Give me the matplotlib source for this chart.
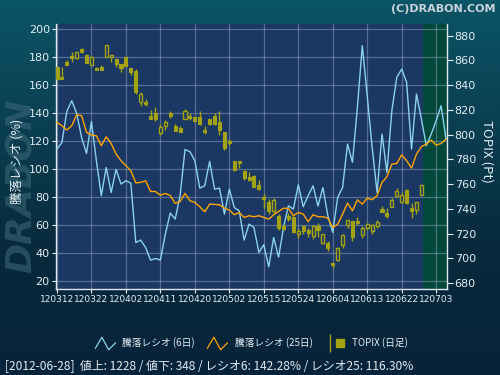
#!/usr/bin/env python3

import numpy as np
import matplotlib
matplotlib.use("Agg")
import matplotlib.pyplot as plt
from matplotlib.lines import Line2D
from matplotlib.path import Path
from matplotlib.legend_handler import HandlerTuple

plt.rcParams["font.family"] = ["DejaVu Sans", "Noto Sans CJK JP"]

JP = ["Noto Sans CJK JP", "DejaVu Sans"]

# x tick labels (every 7 trading days)
date_labels = ["120312", "120322", "120402", "120411", "120420", "120502",
               "120515", "120524", "120604", "120613", "120622", "120703"]

# TOPIX daily candles, 2012-03-12 .. 2012-06-28
topix_open = [854.4, 846.8, 858.7, 863.8, 862.2, 869.2, 864.4, 856.0, 853.6, 855.0,
              862.5, 862.5, 861.4, 857.1, 862.5, 854.1, 851.7, 826.6, 826.4, 815.0,
              817.2, 801.6, 807.2, 817.2, 806.7, 805.3, 812.9, 815.0, 814.0, 814.2,
              803.7, 812.6, 815.0, 810.0, 802.1, 795.1, 778.4, 778.4, 770.8, 765.5,
              766.5, 759.2, 749.8, 745.8, 738.0, 733.9, 725.8, 733.9, 733.1, 720.1,
              726.1, 723.1, 718.0, 725.8, 712.3, 712.3, 696.4, 698.9, 711.0, 727.2,
              729.9, 730.4, 719.0, 724.7, 722.3, 725.8, 739.8, 736.6, 741.7, 750.6,
              745.8, 755.5, 740.4, 739.3, 751.4]
topix_high = [855.0, 855.0, 860.3, 866.8, 866.8, 870.0, 865.2, 863.3, 855.0, 856.3,
              872.5, 864.4, 861.4, 857.1, 863.6, 854.1, 853.0, 834.2, 829.0, 820.0,
              822.0, 808.6, 811.8, 818.8, 809.0, 807.2, 820.7, 817.2, 814.5, 818.8,
              806.7, 812.6, 817.2, 818.8, 802.1, 796.4, 778.9, 778.4, 771.6, 770.0,
              767.5, 763.3, 751.9, 747.7, 748.7, 735.8, 727.7, 737.1, 733.9, 724.5,
              727.2, 724.5, 727.2, 728.5, 719.6, 714.2, 696.4, 709.4, 720.1, 731.0,
              730.4, 733.6, 726.4, 728.5, 727.7, 731.0, 742.5, 741.0, 748.7, 756.8,
              753.9, 756.3, 745.0, 745.2, 759.0]
topix_low = [844.5, 845.0, 856.5, 858.4, 861.4, 866.3, 857.6, 855.5, 852.0, 852.0,
             862.5, 859.0, 855.0, 851.0, 855.5, 848.5, 832.8, 823.4, 823.4, 812.9,
             811.3, 799.7, 803.7, 813.4, 802.9, 802.4, 812.9, 811.8, 810.5, 808.0,
             800.5, 808.0, 808.0, 800.0, 787.5, 791.3, 770.8, 773.0, 763.3, 762.5,
             757.5, 755.5, 741.0, 735.8, 735.8, 722.9, 722.9, 730.4, 720.7, 716.4,
             719.6, 717.5, 715.3, 717.5, 711.5, 706.1, 692.0, 698.0, 708.8, 724.5,
             714.2, 727.2, 716.4, 723.0, 719.6, 724.5, 737.2, 732.3, 741.2, 749.3,
             744.5, 743.9, 733.0, 735.8, 751.4]
topix_close = [845.0, 845.3, 856.5, 862.2, 866.8, 867.1, 858.2, 862.7, 852.0, 852.0,
               872.5, 864.4, 857.4, 854.1, 855.5, 851.0, 834.2, 832.8, 824.7, 812.9,
               812.3, 806.4, 810.2, 815.3, 802.9, 802.4, 818.8, 813.2, 811.0, 808.6,
               802.1, 808.6, 809.0, 803.7, 789.2, 792.9, 771.4, 776.8, 764.9, 763.5,
               758.0, 756.0, 747.7, 738.5, 747.1, 724.5, 723.9, 731.8, 721.2, 722.3,
               721.8, 720.7, 726.6, 723.1, 719.6, 708.6, 694.8, 708.3, 719.0, 731.0,
               717.5, 728.5, 724.5, 727.7, 726.9, 729.6, 737.7, 733.9, 747.1, 754.4,
               751.2, 744.7, 738.5, 745.2, 759.0]

# advance/decline ratio (%)
ratio6 = [114.3, 119.0, 141.2, 148.8, 139.8, 122.6, 111.2, 134.0, 106.0, 81.0,
          101.2, 83.3, 99.8, 89.3, 91.7, 90.0, 47.6, 49.3, 44.0, 35.0,
          36.2, 35.0, 53.6, 68.6, 64.3, 81.0, 114.0, 112.4, 106.0, 86.4,
          88.1, 105.5, 85.7, 86.4, 67.9, 85.7, 72.6, 70.2, 49.3, 60.7,
          58.3, 40.5, 46.0, 30.2, 51.2, 37.1, 58.3, 73.8, 71.4, 88.8,
          73.1, 81.0, 88.1, 73.6, 86.9, 66.7, 54.8, 79.8, 86.9, 117.9,
          104.8, 144.0, 188.1, 152.4, 115.5, 83.3, 125.0, 97.6, 141.7, 165.5,
          171.4, 161.9, 114.3, 153.6, 135.7, 116.7, 125.0, 134.5, 145.2, 121.4]
ratio25 = [133.3, 131.0, 127.9, 131.0, 138.8, 138.1, 126.2, 124.3, 123.8, 116.7,
           123.1, 118.3, 110.7, 106.0, 102.4, 98.8, 90.2, 90.5, 91.7, 84.0,
           84.0, 81.4, 82.6, 81.2, 75.5, 76.9, 82.6, 77.4, 76.2, 73.1,
           69.5, 75.0, 74.8, 74.5, 72.1, 70.7, 67.4, 69.0, 65.5, 66.7,
           66.0, 66.7, 65.5, 64.3, 67.4, 69.8, 72.1, 71.9, 66.7, 69.0,
           67.9, 62.4, 67.4, 66.0, 66.0, 65.0, 58.3, 60.7, 67.9, 75.7,
           70.2, 78.1, 75.0, 79.3, 78.1, 81.0, 90.5, 94.5, 103.6, 104.0,
           110.2, 106.0, 100.7, 110.7, 116.0, 117.9, 120.7, 117.1, 118.3, 121.4]

status_text = "[2012-06-28]  値上: 1228 / 値下: 348 / レシオ6: 142.28% / レシオ25: 116.30%"

PLOT_BG = "#1b3763"
FUTURE_BG = "#02483a"
GRID = "#8a9cb8"
TEXT = "#e4ecf2"
BLUE = "#8ad2f0"
ORANGE = "#ffa500"
OLIVE = "#a3a312"

# little "/\/" icon used in the legend
ZIGZAG = Path([(-1.0, -0.5), (-0.35, 0.6), (0.3, -0.6), (1.0, 0.1)],
              [Path.MOVETO, Path.LINETO, Path.LINETO, Path.LINETO])


def draw_background(fig):
    bg = fig.add_axes([0, 0, 1, 1], zorder=-10)
    grad = np.linspace(0, 1, 256).reshape(-1, 1)
    cmap = matplotlib.colors.LinearSegmentedColormap.from_list(
        "bg", ["#0a5566", "#0a3f52", "#072a3c", "#06233a"])
    bg.imshow(grad, aspect="auto", cmap=cmap, extent=[0, 1, 0, 1])
    bg.set_axis_off()

    # vertical watermark
    fig.text(0.042, 0.505, "DRABON", rotation=90, fontsize=26, fontweight="bold",
             style="italic", color="#3a6677", alpha=0.6, ha="center", va="center")
    fig.text(0.992, 0.988, "(C)DRABON.COM", fontsize=8, fontweight="bold",
             color="#c9d3da", ha="right", va="top")


def draw_candles(ax, x):
    o = np.array(topix_open)
    h = np.array(topix_high)
    l = np.array(topix_low)
    c = np.array(topix_close)
    up = c >= o
    ax.vlines(x, l, h, color=OLIVE, linewidth=1.0, zorder=3)
    body = np.maximum(np.abs(c - o), 0.6)
    bottom = np.minimum(o, c)
    ax.bar(x[~up], body[~up], bottom=bottom[~up], width=0.62, color=OLIVE,
           edgecolor=OLIVE, linewidth=0.8, zorder=4)
    ax.bar(x[up], body[up], bottom=bottom[up], width=0.62, color=PLOT_BG,
           edgecolor=OLIVE, linewidth=1.0, zorder=4)


def main():
    fig = plt.figure(figsize=(5, 3.75), dpi=100)
    draw_background(fig)

    ax = fig.add_axes([0.112, 0.229, 0.782, 0.707])
    ax.set_facecolor(PLOT_BG)
    ax2 = ax.twinx()
    ax2.patch.set_visible(False)

    n_candle = len(topix_close)
    xc = np.arange(n_candle)
    xr = np.arange(len(ratio6))

    ax.axvspan(n_candle - 0.75, 80, color=FUTURE_BG, zorder=0.5, linewidth=0)
    ax.plot(xr, ratio6, color=BLUE, linewidth=1.0, zorder=5)
    ax.plot(xr, ratio25, color=ORANGE, linewidth=1.0, zorder=5)
    draw_candles(ax2, xc)

    ax.set_xlim(-0.2, 79.2)
    ax.set_ylim(14.3, 203.6)
    ax2.set_ylim(675.2, 889.4)

    ax.set_xticks(np.arange(0, 78, 7))
    ax.set_xticklabels(date_labels)
    ax.set_yticks(np.arange(20, 201, 20))
    ax2.set_yticks(np.arange(680, 881, 20))

    ax.grid(True, color=GRID, linewidth=0.9, alpha=0.55)

    for a in (ax, ax2):
        for side in ("top", "left", "right", "bottom"):
            a.spines[side].set_visible(False)
    ax.spines["left"].set_visible(True)
    ax.spines["bottom"].set_visible(True)
    ax2.spines["right"].set_visible(True)
    for sp in (ax.spines["left"], ax.spines["bottom"], ax2.spines["right"]):
        sp.set_color("#dfe8ef")
        sp.set_linewidth(1.0)

    ax.tick_params(axis="y", colors=TEXT, labelsize=8, length=3, pad=1.5)
    ax.tick_params(axis="x", colors=TEXT, labelsize=6.5, length=3, pad=1.5)
    ax2.tick_params(axis="y", colors=TEXT, labelsize=8, length=4, pad=1.5)

    fig.text(0.034, 0.571, "騰落レシオ (%)", rotation=90, fontsize=9, color=TEXT,
             ha="center", va="center", family=JP)
    fig.text(0.974, 0.595, "TOPIX (Pt)", rotation=270, fontsize=9.5, color=TEXT,
             ha="center", va="center", family=JP)

    h_blue = Line2D([], [], color=BLUE, marker=ZIGZAG, markersize=15,
                    markerfacecolor="none", markeredgewidth=0.9, linestyle="None")
    h_orange = Line2D([], [], color=ORANGE, marker=ZIGZAG, markersize=15,
                      markerfacecolor="none", markeredgewidth=0.9, linestyle="None")
    h_wick = Line2D([], [], color=OLIVE, marker="|", markersize=13, linestyle="None")
    h_body = Line2D([], [], color=OLIVE, marker="s", markersize=6, linestyle="None")
    leg = fig.legend(
        [h_blue, h_orange, (h_wick, h_body)],
        ["騰落レシオ (6日)", "騰落レシオ (25日)", "TOPIX (日足)"],
        handler_map={tuple: HandlerTuple(ndivide=None)},
        loc="center", bbox_to_anchor=(0.505, 0.086), ncol=3, frameon=False,
        handlelength=1.6, columnspacing=1.5, handletextpad=1.0,
        prop={"family": JP, "size": 7},
    )
    for t in leg.get_texts():
        t.set_color(TEXT)

    fig.text(0.01, 0.023, status_text, fontsize=8.6, color=TEXT, ha="left",
             va="center", family=JP)

    fig.savefig("out.png", dpi=100)
    plt.close(fig)


if __name__ == "__main__":
    main()
